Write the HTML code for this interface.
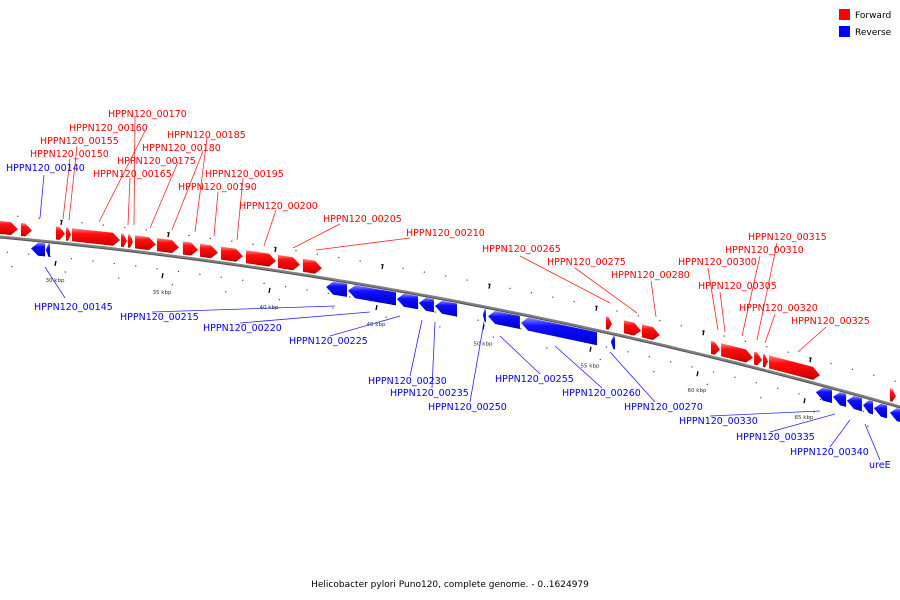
<!DOCTYPE html>
<html><head><meta charset="utf-8">
<style>
html,body{margin:0;padding:0;background:#fff;}
svg{display:block;font-family:"DejaVu Sans","Liberation Sans",sans-serif;}
</style></head>
<body>
<svg id="map" width="900" height="600" viewBox="0 0 900 600" xmlns="http://www.w3.org/2000/svg">
  <defs>
    <linearGradient id="gRed" x1="0" y1="0" x2="0" y2="1">
      <stop offset="0" stop-color="#ff8a8a"/><stop offset="0.3" stop-color="#ff1010"/><stop offset="0.8" stop-color="#e00000"/><stop offset="1" stop-color="#a00000"/>
    </linearGradient>
    <linearGradient id="gBlue" x1="0" y1="0" x2="0" y2="1">
      <stop offset="0" stop-color="#8a8aff"/><stop offset="0.3" stop-color="#1010ff"/><stop offset="0.8" stop-color="#0000e0"/><stop offset="1" stop-color="#0000a0"/>
    </linearGradient>
  </defs>
  <g id="axis"></g>
  <g id="ticks"></g>
  <g id="leaders"></g>
  <g id="genes"></g>
  <g id="labels" font-size="9.5"></g>
  <g font-size="9">
    <rect x="839" y="9" width="11" height="11" fill="#f00"/>
    <text x="855" y="18" fill="#000">Forward</text>
    <rect x="839" y="26" width="11" height="11" fill="#00f"/>
    <text x="855" y="35" fill="#000">Reverse</text>
  </g>
  <text x="450" y="587" text-anchor="middle" font-size="9" fill="#000">Helicobacter pylori Puno120, complete genome. - 0..1624979</text>
</svg>
<script>
// data (kbp)
const fwdStarts = [27.0,28.64,30.28,30.75,31.03,33.32,33.64,33.97,35.00,36.21,37.01,37.99,39.16,40.65,41.82,55.98,56.82,57.66,60.89,61.36,62.90,63.32,63.60,69.25];
const fwdEnds   = [28.50,29.16,30.70,30.98,33.27,33.60,33.88,34.95,36.03,36.92,37.85,39.02,40.56,41.68,42.71,56.26,57.62,58.50,61.31,62.85,63.27,63.55,65.98,69.53];
const revStarts = [29.11,29.81,42.90,43.93,46.21,47.24,47.99,50.23,50.47,52.01,56.21,65.79,66.59,67.24,67.99,68.50,69.25];
const revEnds   = [29.77,30.00,43.88,46.17,47.20,47.94,49.02,50.37,51.96,55.56,56.40,66.54,67.20,67.94,68.46,69.11,70.0];
const tickLabels = [30,35,40,45,50,55,60,65];

const NS = "http://www.w3.org/2000/svg";
function xOf(kb){ return 50 + (kb-30)*21.4; }
function yOf(x){ return 237 + 0.0922*x + 0.0001074*x*x; }
function mk(tag, attrs, parent){ const e=document.createElementNS(NS,tag); for(const k in attrs) e.setAttribute(k,attrs[k]); parent.appendChild(e); return e; }

// axis
const axis=document.getElementById('axis');
let pts=[]; for(let x=-20;x<=920;x+=10) pts.push(x+','+yOf(x).toFixed(1));
const ax1=mk('polyline',{points:pts.join(' '),fill:'none',stroke:'#808080','stroke-width':3},axis);


const ax2=mk('polyline',{points:pts.join(' '),fill:'none',stroke:'#555','stroke-width':1,transform:'translate(0,1)'},axis);



// ticks
const tg=document.getElementById('ticks');
for(let kb=27;kb<=71;kb++){
  const x=xOf(kb), y=yOf(x);
  const d1=mk('rect',{x:x-0.5,y:y+14,width:1.2,height:1.2,fill:'#444'},tg);
  
  
  const d2=mk('rect',{x:x+10,y:y-22,width:1.2,height:1.2,fill:'#444'},tg);
  
  
}
for(let kb=28;kb<=71;kb+=2.5){
  const x=xOf(kb)+4, y=yOf(x);
  const d=mk('rect',{x:x,y:y+28,width:1.2,height:1.2,fill:'#444'},tg);
  
  
}
tickLabels.forEach(kb=>{
  const x=xOf(kb), y=yOf(x);
  const m=mk('line',{x1:x+6,y1:y+19,x2:x+5,y2:y+24,stroke:'#000','stroke-width':1.3},tg);
  
  
  const m2=mk('line',{x1:x+12,y1:y-22,x2:x+11,y2:y-17,stroke:'#000','stroke-width':1.3},tg);
  
  
  const t=mk('text',{x:x+5,y:y+40,'font-size':5.5,fill:'#333','text-anchor':'middle'},tg);
  
  
  t.textContent=kb+' kbp';
});

// genes
const gg=document.getElementById('genes');
function arrow(s,e,fwd){
  const x1=xOf(s), x2=xOf(e), w=x2-x1, h=Math.min(7,w*0.6);
  const o1=fwd?-16:2, o2=fwd?-3:15, om=(o1+o2)/2;
  let p;
  if(fwd){
    const xa=x2-h;
    p=[[x1,yOf(x1)+o1],[xa,yOf(xa)+o1],[x2,yOf(x2)+om],[xa,yOf(xa)+o2],[x1,yOf(x1)+o2]];
  } else {
    const xa=x1+h;
    p=[[x2,yOf(x2)+o1],[xa,yOf(xa)+o1],[x1,yOf(x1)+om],[xa,yOf(xa)+o2],[x2,yOf(x2)+o2]];
  }
  const poly=mk('polygon',{points:p.map(q=>q[0].toFixed(1)+','+q[1].toFixed(1)).join(' '),fill:fwd?'url(#gRed)':'url(#gBlue)'},gg);
  
  
}
fwdStarts.forEach((s,i)=>arrow(s,fwdEnds[i],true));
revStarts.forEach((s,i)=>arrow(s,revEnds[i],false));

// labels
const labelText = ["HPPN120_00140","HPPN120_00150","HPPN120_00155","HPPN120_00160","HPPN120_00165","HPPN120_00170","HPPN120_00175","HPPN120_00180","HPPN120_00185","HPPN120_00190","HPPN120_00195","HPPN120_00200","HPPN120_00205","HPPN120_00210","HPPN120_00265","HPPN120_00275","HPPN120_00280","HPPN120_00300","HPPN120_00305","HPPN120_00310","HPPN120_00315","HPPN120_00320","HPPN120_00325",
"HPPN120_00145","HPPN120_00215","HPPN120_00220","HPPN120_00225","HPPN120_00230","HPPN120_00235","HPPN120_00250","HPPN120_00255","HPPN120_00260","HPPN120_00270","HPPN120_00330","HPPN120_00335","HPPN120_00340","ureE"];
const labelFwd = [0,1,1,1,1,1,1,1,1,1,1,1,1,1,1,1,1,1,1,1,1,1,1, 0,0,0,0,0,0,0,0,0,0,0,0,0,0];
const L=[
[6,171,44,175,40,218],[30,157,70,159,63,219],[40,144,77,146,69,220],[69,131,145,131,99,222],[93,177,130,178,128,225],[108,117,135,117,134,225],
[117,164,178,162,150,228],[142,151,203,151,172,230],[167,138,207,138,195,232],[178,190,218,192,214,236],[205,177,243,178,237,240],[239,209,276,210,264,246],
[323,222,340,224,293,248],[406,236,410,238,316,250],[482,252,520,256,610,303],[547,265,575,268,637,313],[611,278,651,281,656,317],
[678,265,708,268,718,330],[698,289,720,292,725,332],[725,253,760,256,742,336],[748,240,777,243,757,340],[739,311,775,314,765,343],[791,324,826,327,798,352],
[34,310,65,298,45,267],[120,320,152,312,335,306],[203,331,240,323,370,312],[289,344,330,336,400,316],[368,384,410,376,422,320],[390,396,432,388,435,322],
[428,410,470,402,484,322],[495,382,540,374,500,336],[562,396,602,388,555,346],[624,410,655,402,610,352],[679,424,710,416,820,411],[736,440,770,432,835,414],[790,455,830,447,850,420],[869,468,880,460,865,424]];
const lg=document.getElementById('labels'), ld=document.getElementById('leaders');
labelText.forEach((txt,i)=>{
  const r=L[i], col=labelFwd[i]?'#f00':'#00f';
  const ln=mk('line',{x1:r[2],y1:r[3],x2:r[4],y2:r[5],stroke:col,'stroke-width':0.8,opacity:0.85},ld);
  
  
  const t=mk('text',{x:r[0],y:r[1],fill:col},lg);
  
  
  t.textContent=txt;
});
</script>
</body></html>
